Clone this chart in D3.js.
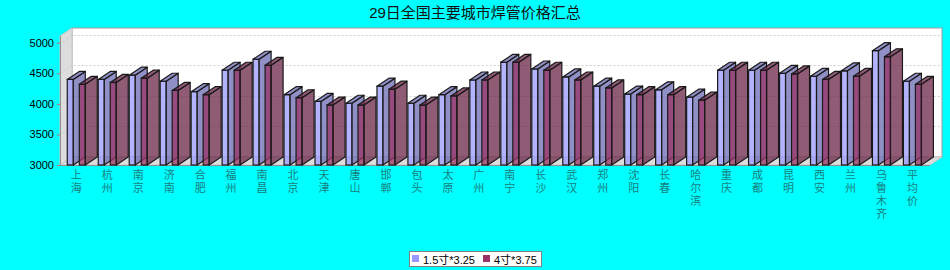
<!DOCTYPE html>
<html>
<head>
<meta charset="utf-8">
<script src="https://cdn.jsdelivr.net/npm/d3@7"></script>
<style>
html,body{margin:0;padding:0;background:#00ffff;}
svg{display:block;}
</style>
</head>
<body>
<svg id="chart" width="950" height="270"></svg>
<script>
const title = "29日全国主要城市焊管价格汇总";
const categories = ["上海","杭州","南京","济南","合肥","福州","南昌","北京","天津","唐山","邯郸","包头","太原","广州","南宁","长沙","武汉","郑州","沈阳","长春","哈尔滨","重庆","成都","昆明","西安","兰州","乌鲁木齐","平均价"];
const seriesNames = ["1.5寸*3.25","4寸*3.75"];
const series1 = [4400,4400,4470,4370,4200,4550,4730,4150,4040,4010,4290,4010,4150,4390,4680,4570,4440,4290,4160,4230,4110,4550,4550,4500,4450,4540,4870,4370];
const series2 = [4320,4350,4420,4220,4150,4550,4630,4100,3980,3980,4240,3980,4130,4390,4680,4550,4390,4260,4150,4150,4060,4550,4550,4490,4400,4450,4770,4320];
const yTicks = [3000,3500,4000,4500,5000];
const colors = ["#9999ff","#993366"];

(function(){
const svg = d3.select("#chart");
const dx = 12, dy = 8;
const pL = 60, pR = 930, pB = 165, pT = 36;
const alpha = 0.75;

const y = d3.scaleLinear().domain([3000, 5110]).range([pB, pT]);
const x = d3.scaleBand().domain(categories).range([60.8, 927.9]).padding(0);
const inner = d3.scaleBand().domain(seriesNames).range([-9, 9]).paddingInner(0.5);

// title
svg.append("text").attr("x", 475).attr("y", 18).attr("text-anchor","middle")
  .attr("font-family","'Liberation Sans','Noto Sans CJK SC',sans-serif").attr("font-size",15)
  .attr("fill","#111").text(title);

// walls
const wallFill = "#dddddd", wallStroke = "#a0a0a0";
svg.append("rect").attr("x", pL+dx).attr("y", pT-dy).attr("width", pR-pL).attr("height", pB-pT)
  .attr("fill","#ffffff").attr("stroke", wallStroke).attr("stroke-width",1);
svg.append("path").attr("d", `M${pL},${pB}L${pL},${pT}L${pL+dx},${pT-dy}L${pL+dx},${pB-dy}Z`)
  .attr("fill", wallFill).attr("stroke", "#c8c8c8").attr("stroke-width",1);
svg.append("path").attr("d", `M${pL},${pB}L${pL+dx},${pB-dy}L${pR+dx},${pB-dy}L${pR},${pB}Z`)
  .attr("fill", wallFill).attr("stroke", "#c8c8c8").attr("stroke-width",1);

// gridlines
yTicks.filter(v => v > 3000).forEach(v => {
  const yy = Math.round(y(v)) + 0.5;
  svg.append("path").attr("d", `M${pL},${yy}L${pL+dx},${yy-dy}L${pR+dx},${yy-dy}`)
    .attr("fill","none").attr("stroke","#c4c4c4").attr("stroke-width",0.8).attr("stroke-dasharray","2,2");
});

// axes lines
svg.append("line").attr("x1",pL+0.5).attr("x2",pL+0.5).attr("y1",pT).attr("y2",pB)
  .attr("stroke","#909090");
svg.append("line").attr("x1",pL).attr("x2",pR).attr("y1",pB+0.5).attr("y2",pB+0.5)
  .attr("stroke","#909090");

// y axis labels and ticks
const yAxis = d3.axisLeft(y).tickValues(yTicks).tickSize(3).tickPadding(3).tickFormat(d3.format("d"));
const ga = svg.append("g").attr("transform", `translate(${pL},0)`).call(yAxis);
ga.select(".domain").remove();
ga.selectAll(".tick line").attr("stroke","#c07070");
ga.selectAll(".tick text").attr("font-family","'Liberation Sans',sans-serif").attr("font-size",11).attr("fill","#000");

// bars
const data = categories.map((c,i) => ({c, vals:[series1[i], series2[i]]}));
const gBars = svg.append("g");
data.forEach(d => {
  const cx = x(d.c) + x.bandwidth()/2;
  d.vals.forEach((v, si) => {
    const bx = cx + inner(seriesNames[si]);
    const bw = inner.bandwidth();
    const yt = y(v);
    const col = d3.color(colors[si]);
    const dark = col.darker(1.0);
    const g = gBars.append("g");
    g.append("rect").attr("x", bx).attr("y", yt).attr("width", bw).attr("height", pB - yt)
      .attr("fill", col).attr("fill-opacity", alpha).attr("stroke","#1a1a1a").attr("stroke-width",1.2);
    g.append("path").attr("d", `M${bx+bw},${yt}L${bx+bw+dx},${yt-dy}L${bx+bw+dx},${pB-dy}L${bx+bw},${pB}Z`)
      .attr("fill", dark).attr("fill-opacity", alpha).attr("stroke","#1a1a1a").attr("stroke-width",1.2).attr("stroke-linejoin","round");
    g.append("path").attr("d", `M${bx},${yt}L${bx+dx},${yt-dy}L${bx+bw+dx},${yt-dy}L${bx+bw},${yt}Z`)
      .attr("fill", dark).attr("fill-opacity", alpha).attr("stroke","#1a1a1a").attr("stroke-width",1.2).attr("stroke-linejoin","round");
  });
});

// category labels (vertical, one text per label)
data.forEach(d => {
  const cx = x(d.c) + x.bandwidth()/2;
  svg.append("text")
    .attr("x", cx).attr("y", 169.5)
    .attr("font-family","'Noto Sans CJK SC',sans-serif").attr("font-size",11)
    .style("writing-mode","vertical-rl").style("letter-spacing","2.1px")
    .attr("fill","#1a8080").text(d.c);
});

// legend
const lg = svg.append("g");
lg.append("rect").attr("x",409.5).attr("y",251.5).attr("width",132).attr("height",15)
  .attr("fill","#ffffff").attr("stroke","#808080");
const legX = [412, 483];
seriesNames.forEach((n, i) => {
  lg.append("rect").attr("x", legX[i]).attr("y", 255).attr("width",7).attr("height",7).attr("fill", colors[i]);
  lg.append("text").attr("x", legX[i]+11).attr("y", 263.5)
    .attr("font-family","'Liberation Sans','Noto Sans CJK SC',sans-serif").attr("font-size",11)
    .attr("fill","#000").text(n);
});
})();
</script>
</body>
</html>
